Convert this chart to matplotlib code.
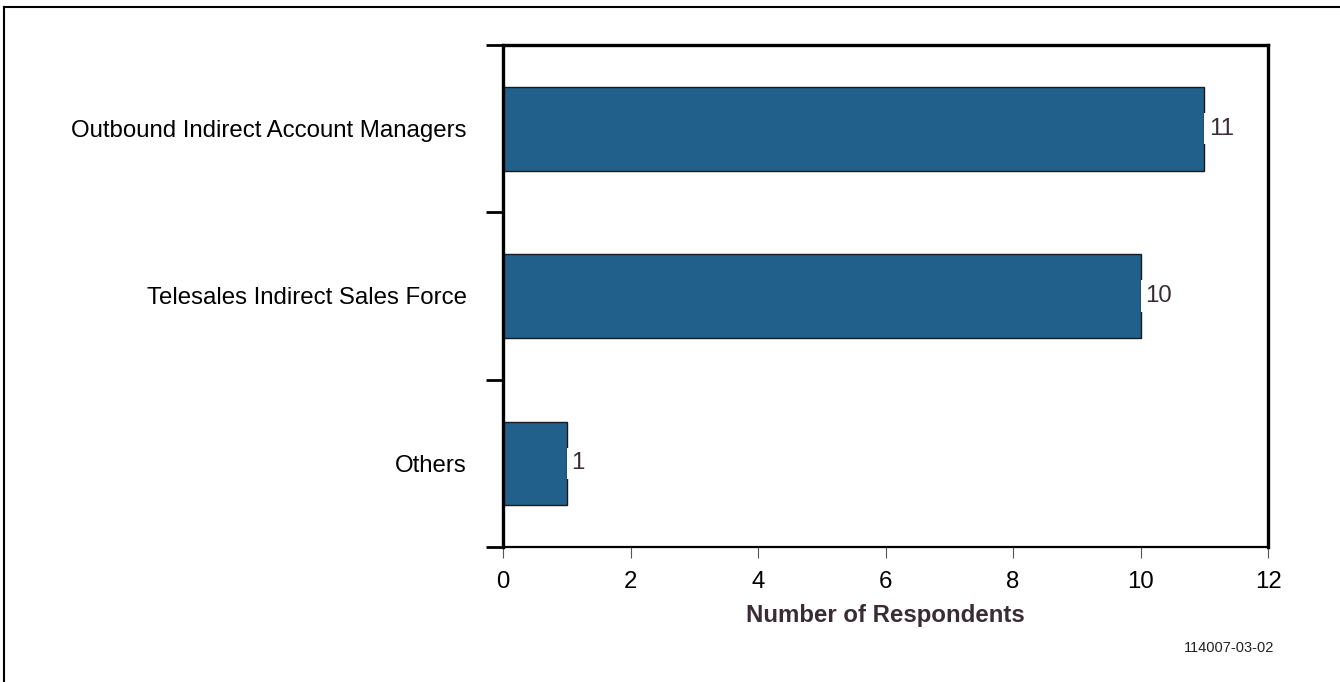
import matplotlib
matplotlib.use("Agg")
import matplotlib.pyplot as plt
from matplotlib.lines import Line2D
import numpy as np

plt.rcParams["font.family"] = ["Liberation Sans", "DejaVu Sans"]

# respondents by sales channel (top to bottom)
categories = ["Outbound Indirect Account Managers",
              "Telesales Indirect Sales Force",
              "Others"]
respondents = [11, 10, 1]
x_ticks = [0, 2, 4, 6, 8, 10, 12]

BAR = "#20608a"
TEXT = "#3a2c35"
FS = 17.3

fig = plt.figure(figsize=(13.4, 6.82), dpi=100)
ax = fig.add_axes([503 / 1340, 1 - 547 / 682, (1268 - 503) / 1340, (547 - 45) / 682])

ypos = np.arange(len(categories))[::-1]
bars = ax.barh(ypos, respondents, height=0.5, color=BAR,
               edgecolor="#1a1a1a", linewidth=1.0, zorder=2)

# value labels sit on a white patch that breaks the bar's end line
for b, v in zip(bars, respondents):
    ax.annotate(str(v), (b.get_width(), b.get_y() + b.get_height() / 2),
                xytext=(3.5, 0), textcoords="offset points",
                ha="left", va="center", fontsize=FS, color=TEXT,
                bbox=dict(boxstyle="square,pad=0.2", fc="white", ec="none"),
                zorder=3)

ax.set_xlim(0, 12)
ax.set_ylim(-0.5, len(categories) - 0.5)
ax.set_xticks(x_ticks)
ax.set_xticklabels([str(t) for t in x_ticks], fontsize=FS)
ax.tick_params(axis="x", direction="out", length=8, width=0.8,
               color="#555555", pad=9)

# major ticks on category boundaries, labels on minor ticks at bar centres
ax.set_yticks(np.arange(-0.5, len(categories), 1.0))
ax.set_yticklabels([])
ax.tick_params(axis="y", which="major", direction="out", length=12, width=2)
ax.set_yticks(ypos, minor=True)
ax.set_yticklabels(categories, minor=True, fontsize=FS)
ax.tick_params(axis="y", which="minor", length=0, pad=26)

for side in ("left", "top", "right"):
    ax.spines[side].set_linewidth(2.4)
ax.spines["bottom"].set_linewidth(1.6)

ax.set_xlabel("Number of Respondents", fontsize=FS, fontweight="bold",
              color=TEXT, labelpad=8)

fig.text(1274 / 1340, 1 - 648 / 682, "114007-03-02", ha="right", va="center",
         fontsize=10.5, family=["Liberation Sans Narrow", "Liberation Sans"],
         color="#222222")

# outer frame (left and top edges)
fig.add_artist(Line2D([4 / 1340, 4 / 1340], [0, 1 - 7 / 682],
                      transform=fig.transFigure, color="black", lw=1.5))
fig.add_artist(Line2D([4 / 1340, 1], [1 - 7 / 682, 1 - 7 / 682],
                      transform=fig.transFigure, color="black", lw=1.5))

fig.savefig("out.png", dpi=100)
